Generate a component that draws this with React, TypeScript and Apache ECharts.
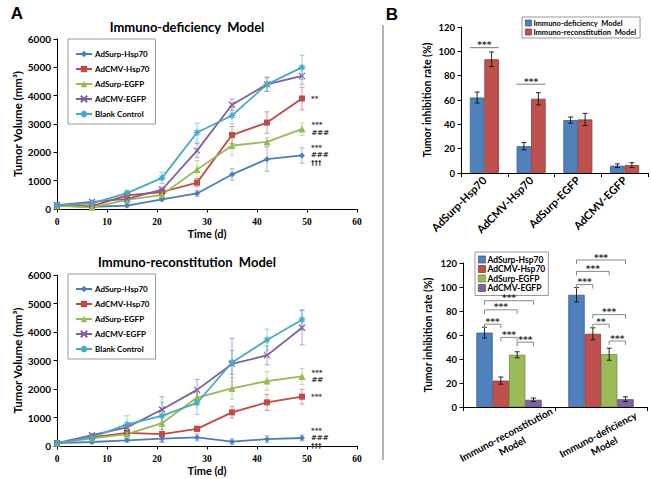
import React, { useEffect, useRef } from "react";
import * as echarts from "echarts";

const FONT = "Lato, 'Open Sans', sans-serif";
const SERIF = "'Liberation Serif', 'DejaVu Serif', serif";
const SIGFONT = "'DejaVu Sans', sans-serif";

// ---------- Panel A data ----------
const days = [0, 7, 14, 21, 28, 35, 42, 49];
const groupNames = ["AdSurp-Hsp70", "AdCMV-Hsp70", "AdSurp-EGFP", "AdCMV-EGFP", "Blank Control"];

// Immuno-deficiency model (mean, SD)
const defSurpHsp = [120, 80, 120, 340, 550, 1220, 1760, 1890];
const defSurpHspSd = [40, 40, 50, 60, 100, 200, 430, 270];
const defCmvHsp = [120, 100, 480, 600, 930, 2610, 3050, 3900];
const defCmvHspSd = [40, 50, 80, 100, 150, 300, 380, 400];
const defSurpEgfp = [110, 60, 320, 500, 1390, 2240, 2370, 2820];
const defSurpEgfpSd = [40, 40, 80, 80, 320, 330, 150, 220];
const defCmvEgfp = [140, 250, 360, 680, 2060, 3680, 4400, 4700];
const defCmvEgfpSd = [40, 60, 80, 100, 250, 200, 250, 300];
const defBlank = [130, 200, 560, 1100, 2700, 3300, 4400, 5000];
const defBlankSd = [40, 80, 100, 200, 330, 300, 250, 430];
const defAnnot = ["***\n###\n†††", "**", "***\n###", "", ""];

// Immuno-reconstitution model (mean, SD)
const recSurpHsp = [100, 140, 200, 260, 300, 150, 240, 280];
const recSurpHspSd = [30, 50, 60, 100, 120, 100, 120, 100];
const recCmvHsp = [100, 300, 460, 420, 600, 1180, 1530, 1730];
const recCmvHspSd = [30, 60, 80, 300, 100, 200, 280, 260];
const recSurpEgfp = [100, 270, 420, 800, 1700, 2020, 2280, 2440];
const recSurpEgfpSd = [30, 60, 100, 300, 150, 380, 330, 280];
const recCmvEgfp = [100, 380, 650, 1280, 1970, 2880, 3180, 4150];
const recCmvEgfpSd = [30, 60, 100, 450, 370, 900, 330, 600];
const recBlank = [100, 300, 760, 1060, 1510, 2930, 3720, 4430];
const recBlankSd = [30, 80, 300, 480, 400, 420, 380, 350];
const recAnnot = ["***\n###\n†††", "***", "***\n##", "", ""];

// ---------- Panel B data ----------
const barCats = ["AdSurp-Hsp70", "AdCMV-Hsp70", "AdSurp-EGFP", "AdCMV-EGFP"];
const modelNames = ["Immuno-deficiency  Model", "Immuno-reconstitution  Model"];
const inhibDef = [62, 22, 43.5, 6];
const inhibDefSd = [4.5, 3, 2.5, 1.5];
const inhibRec = [93.5, 61, 44, 6.5];
const inhibRecSd = [6, 5, 5, 2];
const topSigCat = [0, 1];
const topSigY = [103, 73];
const topSigLabel = ["***", "***"];

const modelCats = ["Immuno-reconstitution\nModel", "Immuno-deficiency\nModel"];
const brkCat = [0, 0, 0, 0, 0, 1, 1, 1, 1, 1, 1];
const brkFrom = [0, 0, 0, 1, 2, 0, 0, 0, 1, 1, 2];
const brkTo = [1, 2, 3, 2, 3, 1, 2, 3, 2, 3, 3];
const brkY = [69, 81, 88.6, 58, 54, 102, 113, 122.5, 69, 77, 55];
const brkLabel = ["***", "***", "***", "***", "***", "***", "***", "***", "**", "***", "***"];

// ---------- styles ----------
const lineColors = ["#4A7EBB", "#BE4B48", "#98B954", "#7D60A0", "#46AAC5"];
const crossPath = "path://M0,0L10,10M10,0L0,10";
const starPath = "path://M5,0L5,10M0,5L10,5M1.5,1.5L8.5,8.5M8.5,1.5L1.5,8.5";
const lineSymbols = ["diamond", "rect", "triangle", crossPath, starPath];
const lineSymbolSizes = [6, 6, 7, 6, 7];
const barColors = ["#4F81BD", "#C0504D", "#9BBB59", "#8064A2"];
const barBorders = ["#385D8A", "#8C3836", "#71893F", "#5C4776"];

const TOP_GAP = 0.38;
const BOT_GAP = 0.29;

function errBarLine(color: string) {
  return (_p: any, api: any) => {
    const x = api.value(0), y = api.value(1), e = api.value(2);
    const t = api.coord([x, y + e]);
    const b = api.coord([x, Math.max(0, y - e)]);
    const hw = 2.5;
    const st = { stroke: color, lineWidth: 1, opacity: 0.55 };
    return {
      type: "group",
      children: [
        { type: "line", shape: { x1: t[0], y1: t[1], x2: b[0], y2: b[1] }, style: st },
        { type: "line", shape: { x1: t[0] - hw, y1: t[1], x2: t[0] + hw, y2: t[1] }, style: st },
        { type: "line", shape: { x1: b[0] - hw, y1: b[1], x2: b[0] + hw, y2: b[1] }, style: st },
      ],
    };
  };
}

function errBarBar(n: number, gap: number) {
  return (_p: any, api: any) => {
    const cat = api.value(0), v = api.value(1), e = api.value(2), bi = api.value(3);
    const band = api.size([1, 0])[0];
    const bw = (band * (1 - gap)) / n;
    const c = api.coord([cat, v]);
    const cx = c[0] + (bi - (n - 1) / 2) * bw;
    const t = api.coord([cat, v + e])[1];
    const b = api.coord([cat, v - e])[1];
    const hw = 2.5;
    const st = { stroke: "#111", lineWidth: 0.9 };
    return {
      type: "group",
      children: [
        { type: "line", shape: { x1: cx, y1: t, x2: cx, y2: b }, style: st },
        { type: "line", shape: { x1: cx - hw, y1: t, x2: cx + hw, y2: t }, style: st },
        { type: "line", shape: { x1: cx - hw, y1: b, x2: cx + hw, y2: b }, style: st },
      ],
    };
  };
}

function bracketRender(n: number, gap: number, labels: string[], ticks: boolean, color: string) {
  return (p: any, api: any) => {
    const cat = api.value(0), from = api.value(1), to = api.value(2), y = api.value(3);
    const band = api.size([1, 0])[0];
    const bw = (band * (1 - gap)) / n;
    const c = api.coord([cat, y]);
    let x1: number, x2: number;
    if (ticks) {
      x1 = c[0] + (from - (n - 1) / 2) * bw;
      x2 = c[0] + (to - (n - 1) / 2) * bw;
    } else {
      x1 = c[0] + (from - n / 2) * bw;
      x2 = c[0] + (to + 1 - n / 2) * bw;
    }
    const yy = c[1];
    const tl = ticks ? 4 : 0;
    return {
      type: "group",
      children: [
        {
          type: "polyline",
          shape: { points: [[x1, yy + tl], [x1, yy], [x2, yy], [x2, yy + tl]] },
          style: { stroke: color, lineWidth: 1, fill: "none" },
        },
        {
          type: "text",
          x: (x1 + x2) / 2,
          y: yy + 2,
          style: {
            text: labels[p.dataIndex],
            align: "center",
            verticalAlign: "bottom",
            fontSize: 9,
            fontWeight: "bold",
            fontFamily: SIGFONT,
            fill: "#333",
          },
        },
      ],
    };
  };
}

const intLabel = (v: number) => String(v);

export default function App() {
  const ref = useRef<HTMLDivElement>(null);

  useEffect(() => {
    document.body.style.margin = "0";
    if (!ref.current) return;
    const chart = echarts.init(ref.current, undefined, { renderer: "svg" });

    const defMeans = [defSurpHsp, defCmvHsp, defSurpEgfp, defCmvEgfp, defBlank];
    const defSds = [defSurpHspSd, defCmvHspSd, defSurpEgfpSd, defCmvEgfpSd, defBlankSd];
    const recMeans = [recSurpHsp, recCmvHsp, recSurpEgfp, recCmvEgfp, recBlank];
    const recSds = [recSurpHspSd, recCmvHspSd, recSurpEgfpSd, recCmvEgfpSd, recBlankSd];

    const series: any[] = [];
    const panels = [
      { means: defMeans, sds: defSds, annot: defAnnot, idx: 0 },
      { means: recMeans, sds: recSds, annot: recAnnot, idx: 1 },
    ];
    panels.forEach((pn) => {
      groupNames.forEach((_name, s) => {
        const color = lineColors[s];
        series.push({
          type: "custom",
          name: "err-" + pn.idx + "-" + s,
          xAxisIndex: pn.idx,
          yAxisIndex: pn.idx,
          renderItem: errBarLine(color),
          data: days.map((d, i) => [d, pn.means[s][i], pn.sds[s][i]]),
          encode: { x: 0, y: 1 },
          z: 1,
          silent: true,
        });
      });
      groupNames.forEach((name, s) => {
        const color = lineColors[s];
        const last = days.length - 1;
        const ann = pn.annot[s];
        const isPath = s >= 3;
        series.push({
          type: "line",
          name,
          xAxisIndex: pn.idx,
          yAxisIndex: pn.idx,
          symbol: lineSymbols[s],
          symbolSize: lineSymbolSizes[s],
          showAllSymbol: true,
          lineStyle: { color, width: 1.8 },
          itemStyle: isPath ? { color, borderColor: color, borderWidth: 1.2 } : { color },
          z: 3,
          data: days.map((d, i) =>
            i === last && ann
              ? {
                  value: [d, pn.means[s][i]],
                  label: {
                    show: true,
                    position: "right",
                    distance: 6,
                    formatter: ann,
                    fontSize: 7,
                    lineHeight: 7.5,
                    fontWeight: "bold",
                    fontFamily: SIGFONT,
                    color: "#333",
                  },
                }
              : [d, pn.means[s][i]]
          ),
        });
      });
    });

    // top-right bars
    [inhibDef, inhibRec].forEach((vals, i) => {
      series.push({
        type: "bar",
        name: modelNames[i],
        xAxisIndex: 2,
        yAxisIndex: 2,
        data: vals,
        barGap: "0%",
        barCategoryGap: TOP_GAP * 100 + "%",
        itemStyle: { color: barColors[i], borderColor: barBorders[i], borderWidth: 0.8 },
        z: 2,
      });
    });
    series.push({
      type: "custom",
      name: "err-top",
      xAxisIndex: 2,
      yAxisIndex: 2,
      renderItem: errBarBar(2, TOP_GAP),
      data: [
        ...barCats.map((_c, k) => [k, inhibDef[k], inhibDefSd[k], 0]),
        ...barCats.map((_c, k) => [k, inhibRec[k], inhibRecSd[k], 1]),
      ],
      encode: { x: 0, y: 1 },
      z: 4,
      silent: true,
    });
    series.push({
      type: "custom",
      name: "sig-top",
      xAxisIndex: 2,
      yAxisIndex: 2,
      clip: false,
      renderItem: bracketRender(2, TOP_GAP, topSigLabel, false, "#777"),
      data: topSigCat.map((c, k) => [c, 0, 1, topSigY[k]]),
      encode: { x: 0, y: 3 },
      z: 5,
      silent: true,
    });

    // bottom-right bars
    const botVals = barCats.map((_c, i) => [inhibDef[i], inhibRec[i]]);
    const botSds = barCats.map((_c, i) => [inhibDefSd[i], inhibRecSd[i]]);
    barCats.forEach((name, i) => {
      series.push({
        type: "bar",
        name,
        xAxisIndex: 3,
        yAxisIndex: 3,
        data: botVals[i],
        barGap: "0%",
        barCategoryGap: BOT_GAP * 100 + "%",
        itemStyle: { color: barColors[i], borderColor: barBorders[i], borderWidth: 0.8 },
        z: 2,
      });
    });
    series.push({
      type: "custom",
      name: "err-bot",
      xAxisIndex: 3,
      yAxisIndex: 3,
      renderItem: errBarBar(4, BOT_GAP),
      data: barCats.flatMap((_c, i) => [0, 1].map((g) => [g, botVals[i][g], botSds[i][g], i])),
      encode: { x: 0, y: 1 },
      z: 4,
      silent: true,
    });
    series.push({
      type: "custom",
      name: "sig-bot",
      xAxisIndex: 3,
      yAxisIndex: 3,
      clip: false,
      renderItem: bracketRender(4, BOT_GAP, brkLabel, true, "#888"),
      data: brkCat.map((c, k) => [c, brkFrom[k], brkTo[k], brkY[k]]),
      encode: { x: 0, y: 3 },
      z: 5,
      silent: true,
    });

    const axisLine = { show: true, lineStyle: { color: "#000", width: 1 } };
    const axisTick = { show: true, length: 3.5, lineStyle: { color: "#000", width: 1 } };
    const nameStyle = (size: number) => ({
      fontFamily: FONT,
      fontWeight: "bold",
      fontSize: size,
      color: "#000",
    });

    const lineX = (gi: number) => ({
      type: "value",
      gridIndex: gi,
      min: 0,
      max: 60,
      interval: 10,
      name: "Time (d)",
      nameLocation: "middle",
      nameGap: 18,
      nameTextStyle: nameStyle(11),
      axisLine,
      axisTick,
      splitLine: { show: false },
      axisLabel: { fontFamily: SERIF, fontWeight: "bold", fontSize: 9.5, color: "#000", margin: 8, formatter: intLabel },
    });
    const lineY = (gi: number) => ({
      type: "value",
      gridIndex: gi,
      min: 0,
      max: 6000,
      interval: 1000,
      name: "Tumor Volume (mm³)",
      nameLocation: "middle",
      nameGap: 34,
      nameTextStyle: nameStyle(11.5),
      axisLine,
      axisTick,
      splitLine: { show: false },
      axisLabel: { fontFamily: FONT, fontWeight: "bold", fontSize: 10, color: "#000", margin: 6, formatter: intLabel },
    });
    const barY = (gi: number, gap: number) => ({
      type: "value",
      gridIndex: gi,
      min: 0,
      max: 120,
      interval: 20,
      name: "Tumor inhibition rate (%)",
      nameLocation: "middle",
      nameGap: gap,
      nameTextStyle: nameStyle(10.5),
      axisLine,
      axisTick,
      splitLine: { show: false },
      axisLabel: { fontFamily: FONT, fontWeight: "bold", fontSize: 9.5, color: "#000", margin: 6, formatter: intLabel },
    });

    const lineLegend = (top: number) => ({
      data: groupNames,
      orient: "vertical",
      left: 68,
      top,
      padding: [10, 6, 5, 7],
      itemGap: 5,
      itemWidth: 16,
      itemHeight: 8,
      borderColor: "#999",
      borderWidth: 1,
      backgroundColor: "#fff",
      selectedMode: false,
      textStyle: { fontFamily: FONT, fontWeight: "bold", fontSize: 8, lineHeight: 10, color: "#000", padding: [0, 0, 0, -2] },
    });

    chart.setOption({
      animation: false,
      textStyle: { fontFamily: FONT },
      grid: [
        { left: 57, top: 39, width: 300, height: 170, outerBoundsMode: "none" },
        { left: 57, top: 275, width: 300, height: 171, outerBoundsMode: "none" },
        { left: 461, top: 27, width: 187, height: 146, outerBoundsMode: "none" },
        { left: 463, top: 263, width: 184, height: 144, outerBoundsMode: "none" },
      ],
      xAxis: [
        lineX(0),
        lineX(1),
        {
          type: "category",
          gridIndex: 2,
          data: barCats,
          axisLine,
          axisTick: { show: true, length: 4, lineStyle: { color: "#000" } },
          axisLabel: {
            interval: 0,
            rotate: 45,
            margin: 5,
            fontFamily: FONT,
            fontWeight: "bold",
            fontSize: 11,
            color: "#000",
          },
        },
        {
          type: "category",
          gridIndex: 3,
          data: modelCats,
          axisLine,
          axisTick: { show: true, length: 4, lineStyle: { color: "#000" } },
          axisLabel: {
            interval: 0,
            rotate: 28,
            align: "center",
            verticalAlign: "middle",
            margin: 33,
            lineHeight: 13,
            fontFamily: FONT,
            fontWeight: "bold",
            fontSize: 10,
            color: "#000",
          },
        },
      ],
      yAxis: [lineY(0), lineY(1), barY(2, 29), barY(3, 30)],
      legend: [
        lineLegend(39),
        lineLegend(274),
        {
          data: modelNames.map((n, i) => ({
            name: n,
            icon: "rect",
            itemStyle: { color: barColors[i], borderColor: barBorders[i], borderWidth: 0.8 },
          })),
          orient: "vertical",
          left: 522,
          top: 17,
          padding: [2, 4, 2, 3],
          itemGap: 1,
          itemWidth: 6,
          itemHeight: 6,
          borderColor: "#999",
          borderWidth: 1,
          selectedMode: false,
          textStyle: { fontFamily: FONT, fontWeight: "bold", fontSize: 7.5, lineHeight: 8, color: "#000", padding: [0, 0, 0, -3] },
        },
        {
          data: barCats.map((n, i) => ({
            name: n,
            icon: "rect",
            itemStyle: { color: barColors[i], borderColor: barBorders[i], borderWidth: 0.8 },
          })),
          orient: "vertical",
          left: 475,
          top: 252,
          padding: [3, 3, 3, 3],
          itemGap: 0.5,
          itemWidth: 7,
          itemHeight: 7,
          borderColor: "#999",
          borderWidth: 1,
          backgroundColor: "#fff",
          selectedMode: false,
          textStyle: { fontFamily: FONT, fontWeight: "bold", fontSize: 8.5, lineHeight: 9, color: "#000", padding: [0, 0, 0, -3] },
        },
      ],
      graphic: [
        {
          type: "text",
          x: 17,
          y: 13,
          style: { text: "A", fontSize: 17, fontWeight: "bold", fontFamily: "'Liberation Sans', Arial, sans-serif", fill: "#000", align: "center", verticalAlign: "middle" },
        },
        {
          type: "text",
          x: 392,
          y: 14,
          style: { text: "B", fontSize: 17, fontWeight: "bold", fontFamily: "'Liberation Sans', Arial, sans-serif", fill: "#000", align: "center", verticalAlign: "middle" },
        },
        {
          type: "text",
          x: 187,
          y: 27,
          style: { text: "Immuno-deficiency  Model", fontSize: 13, fontWeight: "bold", fontFamily: FONT, fill: "#000", align: "center", verticalAlign: "middle" },
        },
        {
          type: "text",
          x: 187,
          y: 262,
          style: { text: "Immuno-reconstitution  Model", fontSize: 13, fontWeight: "bold", fontFamily: FONT, fill: "#000", align: "center", verticalAlign: "middle" },
        },
        {
          type: "line",
          shape: { x1: 383, y1: 25, x2: 383, y2: 460 },
          style: { stroke: "#999", lineWidth: 1.5 },
        },
      ],
      series,
    });

    return () => chart.dispose();
  }, []);

  return <div ref={ref} style={{ width: 651, height: 479 }} />;
}
